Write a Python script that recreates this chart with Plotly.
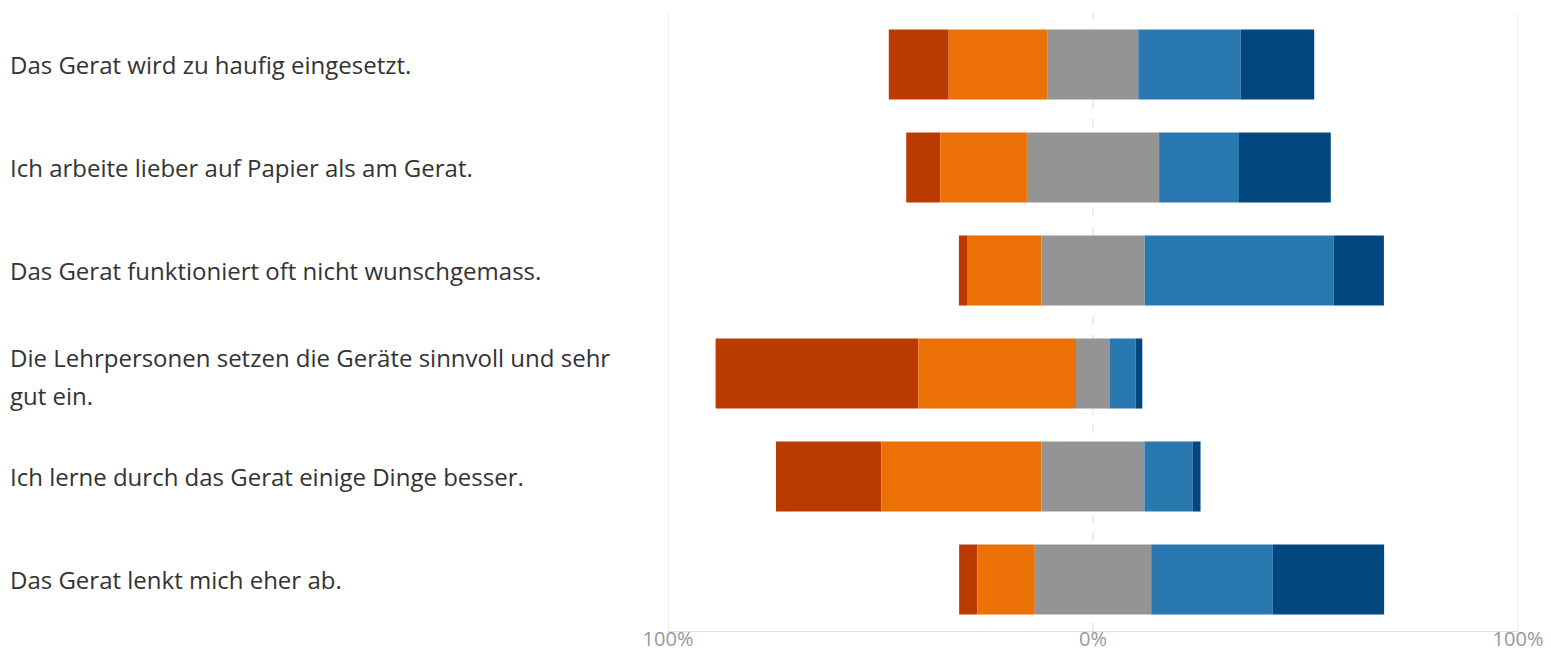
import plotly.graph_objects as go

categories = [
    "Das Gerat wird zu haufig eingesetzt.",
    "Ich arbeite lieber auf Papier als am Gerat.",
    "Das Gerat funktioniert oft nicht wunschgemass.",
    "Die Lehrpersonen setzen die Geräte sinnvoll und sehr<br>gut ein.",
    "Ich lerne durch das Gerat einige Dinge besser.",
    "Das Gerat lenkt mich eher ab.",
]

# percentages per answer level (strong disagree ... strong agree)
level_1 = [14.1, 8.0, 1.9, 47.7, 24.8, 4.3]
level_2 = [23.3, 20.4, 17.5, 37.1, 37.7, 13.5]
neutral = [21.3, 31.1, 24.3, 8.0, 24.2, 27.4]
level_4 = [24.1, 18.8, 44.5, 6.0, 11.3, 28.6]
level_5 = [17.3, 21.6, 11.8, 1.6, 1.9, 26.2]

tick_vals = [-100, 0, 100]
tick_text = ["100%", "0%", "100%"]

colors = ["#BB3A00", "#EB7106", "#949494", "#2A78B0", "#02477F"]
series = [level_1, level_2, neutral, level_4, level_5]

ypos = list(range(len(categories)))

fig = go.Figure()
starts = [-(a + b + c / 2) for a, b, c in zip(level_1, level_2, neutral)]
base = list(starts)
for vals, col in zip(series, colors):
    fig.add_trace(go.Bar(
        y=ypos, x=vals, base=list(base), orientation="h",
        marker=dict(color=col, line=dict(width=0)),
        width=0.68, showlegend=False, hoverinfo="x",
    ))
    base = [b + v for b, v in zip(base, vals)]

# page body has an 8px margin; figure is sized to fit the window
W, H = 1543, 642
L, T = 660, 5
PW, PH = 850, 618
R = W - L - PW
B = H - T - PH

for tv in tick_vals:
    fig.add_shape(type="line", xref="x", yref="paper", x0=tv, x1=tv, y0=0, y1=1,
                  line=dict(color="#dddddd", width=1, dash="dash" if tv == 0 else "solid"),
                  layer="below")

label_x = (0 - L) / PW
for i, lab in enumerate(categories):
    parts = lab.split("<br>")
    n = len(parts)
    for j, p in enumerate(parts):
        fig.add_annotation(
            xref="paper", yref="y", x=label_x, y=i, text=p, showarrow=False,
            xanchor="left", yanchor="middle",
            yshift=((n - 1) / 2 - j) * 38 - (3 if n > 1 else 0),
            font=dict(family="Open Sans", size=24, color="#333333"),
        )

fig.update_layout(
    template="none",
    width=W, height=H,
    margin=dict(l=L, r=R, t=T, b=B, autoexpand=False),
    barmode="overlay",
    plot_bgcolor="white", paper_bgcolor="white",
    xaxis=dict(range=[-100, 100], tickvals=tick_vals, ticktext=tick_text,
               showgrid=False, zeroline=False, showline=True, linecolor="#dddddd",
               tickfont=dict(family="Open Sans", size=20, color="#999999"),
               ticks="", ticklabelstandoff=-10, automargin=False, fixedrange=True),
    yaxis=dict(range=[len(categories) - 0.5, -0.5], showticklabels=False,
               showgrid=False, zeroline=False, showline=False, ticks="",
               automargin=False, fixedrange=True),
)

fig.write_html("out.html")
